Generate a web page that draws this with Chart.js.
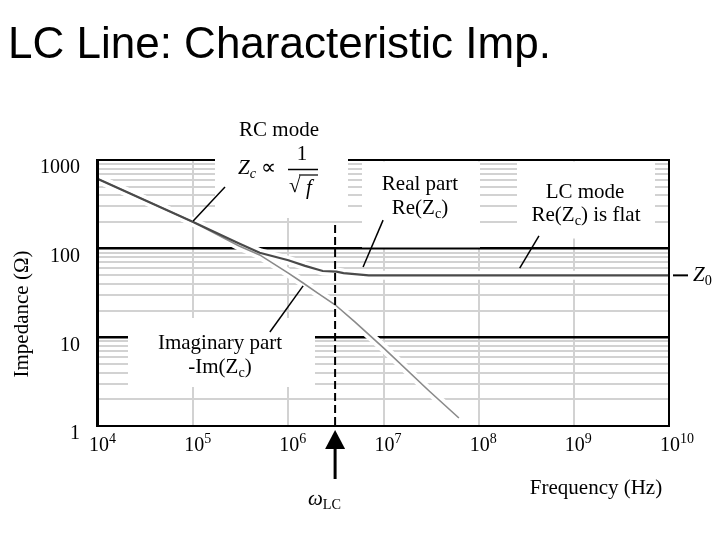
<!DOCTYPE html>
<html><head><meta charset="utf-8">
<script src="https://cdn.jsdelivr.net/npm/chart.js@4/dist/chart.umd.min.js"></script>
<style>html,body{margin:0;padding:0;background:#fff}</style>
</head><body>
<canvas id="c" width="720" height="540"></canvas>
<script>
// ---- data ----
const titleText = 'LC Line: Characteristic Imp.';
const reFreq   = [1e4, 1e5, 3e5, 5e5, 1e6, 1.5e6, 2.3e6, 3.2e6, 3.8e6, 7e6, 1e10];
const reValues = [611, 200, 115, 90, 74, 64, 56, 55, 53, 50, 50];
const imFreq   = [1e4, 1e5, 3e5, 5e5, 1e6, 1.43e6, 2e6, 3.1e6, 5e6, 1e7, 3e7, 6.2e7];
const imValues = [611, 200, 108, 85, 53, 41, 32, 23.3, 14.9, 7.6, 2.5, 1.23];
const xTickValues = [1e4, 1e5, 1e6, 1e7, 1e8, 1e9, 1e10];
const xTickBase = '10';
const xTickExponents = ['4', '5', '6', '7', '8', '9', '10'];
const yTickValues = [1, 10, 100, 1000];
const yTickLabels = ['1', '10', '100', '1000'];
const yMajorGrid = [10, 100];
const omegaLC = 3.1e6;
const z0 = 50;
const xTitle = 'Frequency (Hz)';
const yTitle = 'Impedance (Ω)';

const SERIF = '"Liberation Serif", "Times New Roman", serif';
const SANS = '"Liberation Sans", Arial, sans-serif';

function pts(xs, ys){ return xs.map((v,i)=>({x:v, y:ys[i]})); }

const yAllTicks = [];
for (let d = 1; d < 1000; d *= 10) for (let k = 1; k < 10; k++) yAllTicks.push(k*d);
yAllTicks.push(1000);

function rich(ctx, parts, x, y, align, size){
  let w = 0; const info = [];
  for (const p of parts){
    const s = p.small ? size*p.small : ((p.sub || p.sup) ? size*0.68 : size);
    const f = (p.i ? 'italic ' : '') + s + 'px ' + SERIF;
    ctx.font = f; const m = ctx.measureText(p.t).width;
    info.push([f, m]); w += m;
  }
  let cx = align === 'center' ? x - w/2 : (align === 'right' ? x - w : x);
  ctx.textAlign = 'left'; ctx.textBaseline = 'middle';
  parts.forEach((p,i)=>{
    ctx.font = info[i][0];
    const dy = p.sub ? size*0.3 : (p.sup ? -size*0.3 : 0);
    ctx.fillText(p.t, cx, y + dy);
    cx += info[i][1];
  });
  return w;
}

const deco = {
  id: 'deco',
  afterDatasetsDraw(chart){
    const {ctx, chartArea: a, scales: {x, y}} = chart;
    const P = (f, z) => [x.getPixelForValue(f), y.getPixelForValue(z)];
    const seg = (p, q, w) => { ctx.lineWidth = w; ctx.beginPath(); ctx.moveTo(p[0], p[1]); ctx.lineTo(q[0], q[1]); ctx.stroke(); };
    ctx.save();
    ctx.strokeStyle = '#000'; ctx.fillStyle = '#000';
    // frame
    ctx.lineWidth = 2;
    ctx.strokeRect(a.left, a.top, a.right - a.left, a.bottom - a.top);
    seg([a.left - 0.5, a.top - 1], [a.left - 0.5, a.bottom + 1], 3);
    // white label boxes
    ctx.fillStyle = '#fff';
    ctx.fillRect(215, 112, 133, 106);
    ctx.fillRect(362, a.top + 1.5, 118, 86);
    ctx.fillRect(517, a.top + 1.5, 138, 77);
    ctx.fillRect(128, 318, 187, 69);
    ctx.fillStyle = '#000';
    // x tick labels (10 with superscript exponent) at the scale's tick positions
    x.ticks.forEach(t => {
      const i = xTickValues.indexOf(t.value);
      if (i < 0) return;
      const px = x.getPixelForValue(t.value);
      ctx.font = '20px ' + SERIF;
      const bw = ctx.measureText(xTickBase).width;
      rich(ctx, [{t:xTickBase}], px + 1 - bw/2, a.bottom + 20, 'left', 20);
      rich(ctx, [{t:xTickExponents[i], small:0.7}], px + 1 + bw/2, a.bottom + 13, 'left', 20);
    });
    // dashed omega_LC line
    ctx.setLineDash([8, 4]);
    seg(P(omegaLC, 185), P(omegaLC, 1), 2);
    ctx.setLineDash([]);
    // leader lines
    seg(P(2.16e5, 495), P(1e5, 205), 1.5);
    seg(P(9.9e6, 210), P(6.1e6, 62), 1.5);
    seg(P(4.3e8, 139), P(2.7e8, 60.5), 1.5);
    seg(P(6.4e5, 11.5), P(1.43e6, 38), 1.5);
    // arrow under axis
    const ax = x.getPixelForValue(omegaLC);
    ctx.beginPath(); ctx.moveTo(ax, a.bottom + 4); ctx.lineTo(ax - 10, a.bottom + 23); ctx.lineTo(ax + 10, a.bottom + 23); ctx.closePath(); ctx.fill();
    seg([ax, a.bottom + 22], [ax, a.bottom + 53], 3);
    // Z0 marker
    const zy = y.getPixelForValue(z0);
    seg([a.right + 4, zy], [a.right + 19, zy], 2);
    rich(ctx, [{t:'Z', i:true}, {t:'0', sub:true}], a.right + 24, zy, 'left', 21);
    // annotations
    rich(ctx, [{t:'RC mode'}], 279, 130, 'center', 21);
    rich(ctx, [{t:'Z', i:true}, {t:'c', sub:true, i:true}, {t:' ∝'}], 238, 168, 'left', 21);
    rich(ctx, [{t:'1'}], 302, 154, 'center', 21);
    seg([288, 169.5], [318, 169.5], 1.5);
    rich(ctx, [{t:'√'}], 289, 186, 'left', 21);
    rich(ctx, [{t:'f', i:true}], 306, 188, 'left', 21);
    seg([299, 175], [318, 175], 1.2);
    rich(ctx, [{t:'Real part'}], 420, 184, 'center', 21);
    rich(ctx, [{t:'Re(Z'}, {t:'c', sub:true}, {t:')'}], 420, 208, 'center', 21);
    rich(ctx, [{t:'LC mode'}], 585, 192, 'center', 21);
    rich(ctx, [{t:'Re(Z'}, {t:'c', sub:true}, {t:') is flat'}], 586, 215, 'center', 21);
    rich(ctx, [{t:'Imaginary part'}], 220, 343, 'center', 21);
    rich(ctx, [{t:'-Im(Z'}, {t:'c', sub:true}, {t:')'}], 220, 367, 'center', 21);
    rich(ctx, [{t:'ω', i:true}, {t:'LC', sub:true}], 308, 499, 'left', 21);
    rich(ctx, [{t:xTitle}], 596, 488, 'center', 21);
    ctx.save(); ctx.translate(22, 314); ctx.rotate(-Math.PI/2);
    rich(ctx, [{t:yTitle}], 0, 0, 'center', 21);
    ctx.restore();
    // title
    ctx.font = '44px ' + SANS; ctx.textAlign = 'left'; ctx.textBaseline = 'alphabetic';
    ctx.fillText(titleText, 8, 58);
    ctx.restore();
  }
};

new Chart(document.getElementById('c'), {
  type: 'line',
  data: {
    datasets: [
      { label: 'Re(Zc)', data: pts(reFreq, reValues), borderColor: '#4a4a4a', borderWidth: 2.2, pointRadius: 0, tension: 0, order: 1, clip: 0 },
      { label: '-Im(Zc)', data: pts(imFreq, imValues), borderColor: '#8a8a8a', borderWidth: 1.6, pointRadius: 0, tension: 0, order: 1, clip: 0 },
      { label: 'halo re', data: pts(reFreq, reValues), borderColor: '#fff', borderWidth: 9, pointRadius: 0, tension: 0, order: 2, clip: 0 },
      { label: 'halo im', data: pts(imFreq, imValues), borderColor: '#fff', borderWidth: 9, pointRadius: 0, tension: 0, order: 2, clip: 0 }
    ]
  },
  options: {
    responsive: false, animation: false, devicePixelRatio: 1,
    layout: { padding: { left: 0, top: 160, right: 51, bottom: 0 } },
    plugins: { legend: { display: false }, tooltip: { enabled: false }, title: { display: false } },
    scales: {
      x: {
        type: 'logarithmic', min: 1e4, max: 1e10,
        afterBuildTicks: s => { s.ticks = xTickValues.map(v => ({ value: v })); },
        afterFit: s => { s.height = 114; },
        border: { display: false },
        grid: { drawTicks: false, lineWidth: 2,
          color: c => (c.tick && (c.tick.value === 1e4 || c.tick.value === 1e10)) ? 'rgba(0,0,0,0)' : '#d2d2d2' },
        ticks: { display: false, autoSkip: false, maxRotation: 0 }
      },
      y: {
        type: 'logarithmic', min: 1, max: 1000,
        afterBuildTicks: s => { s.ticks = yAllTicks.map(v => ({ value: v })); },
        afterFit: s => { s.width = 98; },
        border: { display: false },
        grid: { drawTicks: false,
          lineWidth: c => (c.tick && yMajorGrid.includes(c.tick.value)) ? 2.5 : 2,
          color: c => {
            const v = c.tick ? c.tick.value : 0;
            if (v === 1 || v === 1000) return 'rgba(0,0,0,0)';
            return yMajorGrid.includes(v) ? '#000' : '#d2d2d2';
          } },
        ticks: { autoSkip: false, padding: 18, labelOffset: 8, color: '#000',
          font: { family: SERIF, size: 20 },
          callback: v => { const i = yTickValues.indexOf(v); return i >= 0 ? yTickLabels[i] : ''; } }
      }
    }
  },
  plugins: [deco]
});
</script>
</body></html>
